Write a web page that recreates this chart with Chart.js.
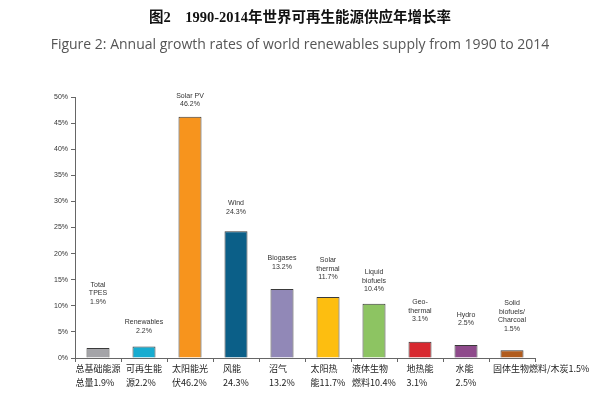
<!DOCTYPE html>
<html>
<head>
<meta charset="utf-8">
<script src="https://cdn.jsdelivr.net/npm/chart.js@4"></script>
<style>
  html, body { margin: 0; padding: 0; background: #fff; }
  #growth-chart { display: block; }
</style>
</head>
<body>
<canvas id="growth-chart" width="600" height="395"></canvas>
<script>
const growthChart = document.getElementById('growth-chart');

// data
var categories = [
    ['总基础能源', '总量1.9%'],
    ['可再生能', '源2.2%'],
    ['太阳能光', '伏46.2%'],
    ['风能', '24.3%'],
    ['沼气', '13.2%'],
    ['太阳热', '能11.7%'],
    ['液体生物', '燃料10.4%'],
    ['地热能', '3.1%'],
    ['水能', '2.5%'],
    ['固体生物燃料/木炭1.5%']
];
var barNames = [
    ['Total', 'TPES'],
    ['Renewables'],
    ['Solar PV'],
    ['Wind'],
    ['Biogases'],
    ['Solar', 'thermal'],
    ['Liquid', 'biofuels'],
    ['Geo-', 'thermal'],
    ['Hydro'],
    ['Solid', 'biofuels/', 'Charcoal']
];
var growth = [1.9, 2.2, 46.2, 24.3, 13.2, 11.7, 10.4, 3.1, 2.5, 1.5];
var yTicks = [0, 5, 10, 15, 20, 25, 30, 35, 40, 45, 50];

var titleCn = '图2    1990-2014年世界可再生能源供应年增长率';
var titleEn = 'Figure 2: Annual growth rates of world renewables supply from 1990 to 2014';

// styling
var barColors = ['#a4a4a8', '#17acd0', '#f7941d', '#0b5f88', '#9188b7', '#fdbe10', '#8dc462', '#d7282f', '#8e4a8b', '#b15c1e'];
var labelLift = [43, 12, 9, 16, 19, 16, 11, 19, 18, 18];

const barLabels = {
    id: 'barLabels',
    afterDatasetsDraw(chart) {
        const ctx = chart.ctx;
        const meta = chart.getDatasetMeta(0);
        const area = chart.chartArea;
        ctx.save();
        // titles, centred on the page
        ctx.textAlign = 'center';
        ctx.textBaseline = 'middle';
        ctx.fillStyle = '#111';
        ctx.font = 'bold 14.5px "Liberation Serif", "Noto Sans CJK SC", serif';
        ctx.fillText(titleCn, chart.width / 2, 18);
        ctx.fillStyle = '#555';
        ctx.font = '14px "Open Sans", sans-serif';
        ctx.fillText(titleEn, chart.width / 2, 45);

        // captions above the bars
        ctx.font = '7px "Liberation Sans", Arial, sans-serif';
        ctx.fillStyle = '#333';
        ctx.textBaseline = 'bottom';
        meta.data.forEach(function(bar, i) {
            var lines = barNames[i].concat([growth[i] + '%']);
            var y = bar.y - labelLift[i];
            for (var k = lines.length - 1; k >= 0; k--) {
                ctx.fillText(lines[k], bar.x, y);
                y -= 8.5;
            }
        });
        // category labels under the axis
        ctx.font = '9px "Noto Sans CJK SC", sans-serif';
        ctx.fillStyle = '#222';
        ctx.textAlign = 'left';
        ctx.textBaseline = 'middle';
        meta.data.forEach(function(bar, i) {
            var lines = categories[i];
            var w = Math.max.apply(null, lines.map(function(t) { return ctx.measureText(t).width; }));
            var x = bar.x - w / 2;
            if (i === categories.length - 1) x = bar.x - 19;
            lines.forEach(function(t, k) {
                ctx.fillText(t, x, area.bottom + 11 + k * 14);
            });
        });
        ctx.restore();
    }
};

new Chart(growthChart, {
    type: 'bar',
    data: {
        labels: categories,
        datasets: [{
            data: growth,
            backgroundColor: barColors,
            borderColor: '#3a3a3a',
            borderWidth: 1,
            barPercentage: 0.5,
            categoryPercentage: 1
        }]
    },
    options: {
        responsive: false,
        animation: false,
        layout: {
            padding: { left: 0, right: 65, bottom: 33, top: 97 }
        },
        plugins: {
            legend: { display: false },
            tooltip: { enabled: false }
        },
        scales: {
            x: {
                grid: { offset: true, drawOnChartArea: false, drawTicks: true, tickLength: 4, color: '#666' },
                border: { color: '#666' },
                ticks: { display: false }
            },
            y: {
                min: 0,
                max: 50,
                afterBuildTicks: function(scale) {
                    scale.ticks = yTicks.map(function(v) { return { value: v }; });
                },
                afterFit: function(scale) { scale.width = 75; },
                grid: { drawOnChartArea: false, drawTicks: true, tickLength: 4, color: '#666' },
                border: { color: '#666' },
                ticks: {
                    padding: 3,
                    color: '#333',
                    font: { family: '"Liberation Sans", Arial, sans-serif', size: 7 },
                    callback: function(v) { return v + '%'; }
                }
            }
        }
    },
    plugins: [barLabels]
});
</script>
</body>
</html>
